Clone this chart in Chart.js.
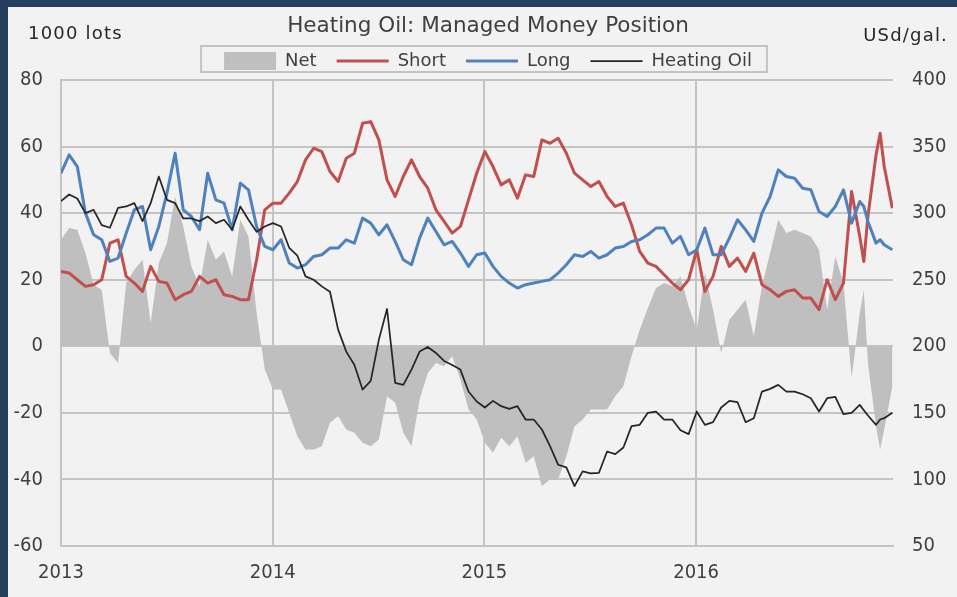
<!doctype html>
<html lang="en">
<head>
  <meta charset="utf-8">
  <title>Heating Oil: Managed Money Position</title>
  <script src="https://cdn.jsdelivr.net/npm/chart.js"></script>
  <style>
    html, body { margin: 0; padding: 0; }
    body { width: 957px; height: 597px; background: #243e5f; position: relative; overflow: hidden; }
    #wrap { position: absolute; left: 8px; top: 7px; width: 949px; height: 590px; background: #f2f2f2; }
  </style>
</head>
<body>
  <div id="wrap"><canvas id="chart"></canvas></div>

  <script>
    // week index (from 1 Jan 2013) of each sampled observation
    const weeks = [
      0, 2, 4, 6, 8, 10, 12, 14, 16, 18, 20, 22, 24,
      26, 28, 30, 32, 34, 36, 38, 40, 42, 44, 46, 48, 50,
      52, 54, 56, 58, 60, 62, 64, 66, 68, 70, 72, 74, 76,
      78, 80, 82, 84, 86, 88, 90, 92, 94, 96, 98, 100, 102,
      104, 106, 108, 110, 112, 114, 116, 118, 120, 122, 124, 126, 128,
      130, 132, 134, 136, 138, 140, 142, 144, 146, 148, 150, 152, 154,
      156, 158, 160, 162, 164, 166, 168, 170, 172, 174, 176, 178, 180,
      182, 184, 186, 188, 190, 192, 194, 196, 197, 198, 200, 201, 202, 204
    ];

    // managed money positions, 1000 lots
    const net = [
      32, 35.5, 35, 28, 18.5, 17, -2, -5, 19, 23, 26, 7, 25,
      31, 45, 36, 24, 18, 32, 26, 28.5, 21, 38, 33, 10, -7,
      -13, -13, -20, -27, -31, -31, -30, -23, -21, -25, -26, -29, -30,
      -28, -15, -17, -26, -30, -16, -8, -5, -6, -3, -10, -19, -22,
      -29, -32, -27.5, -30, -27, -35, -33, -42, -40, -40, -33, -24, -22,
      -19, -19, -19, -15, -12, -3, 5, 11.5, 17.5, 19, 18, 21, 12,
      5, 22, 11, -2, 8, 11, 14, 3, 18, 28, 38, 34, 35,
      34, 33, 29, 11, 27, 19, -9.5, 10, 17, -5, -24, -31, -25, -12
    ];
    const short = [
      22.5, 22, 20, 18, 18.5, 20, 31, 32, 21, 19, 16.5, 24, 19.5,
      19, 14, 15.5, 16.5, 21, 19, 20, 15.5, 15, 14, 14, 26, 41,
      43, 43, 46, 49.5, 56, 59.5, 58.5, 52.5, 49.5, 56.5, 58, 67, 67.5,
      62, 50, 45, 51, 56, 51, 47.5, 41, 37.5, 34, 36, 44, 52,
      58.5, 54, 48.5, 50, 44.5, 51.5, 51, 62, 61, 62.5, 58, 52, 50,
      48, 49.5, 45, 42, 43, 36.5, 28.5, 25, 24, 21.5, 19, 17, 20,
      29, 16.5, 21, 30, 24, 26.5, 22.5, 28, 18.5, 17, 15, 16.5, 17,
      14.5, 14.5, 11, 20, 14, 19, 46.5, 33, 25.5, 39, 57.5, 64, 54, 41.5
    ];
    const long = [
      52, 57.5, 54, 40, 33.5, 32, 25.5, 26.5, 34, 41, 42, 29, 36,
      46, 58, 41, 39, 35, 52, 44, 43, 35, 49, 47, 36, 30,
      29, 32, 25, 23.5, 24.5, 27, 27.5, 29.5, 29.5, 32, 31, 38.5, 37,
      33.5, 36.5, 31.5, 26, 24.5, 32.5, 38.5, 34.5, 30.5, 31.5, 28, 24, 27.5,
      28, 24, 21, 19, 17.5, 18.5, 19, 19.5, 20, 22, 24.5, 27.5, 27,
      28.5, 26.5, 27.5, 29.5, 30, 31.5, 32, 33.5, 35.5, 35.5, 31, 33, 27.5,
      29, 35.5, 27.5, 27.5, 32.5, 38, 35, 31.5, 40, 45, 53, 51, 50.5,
      47.5, 47, 40.5, 39, 42, 47, 37, 43.5, 42, 37.5, 31, 32, 30.5, 29
    ];
    // heating oil price, USd/gal.
    const heatingOil = [
      309, 314, 311, 300, 302.5, 291, 289, 304, 305, 307.5, 294, 307.5, 327.5,
      310, 307.5, 296, 296, 294, 297.5, 292.5, 295, 287.5, 305, 295, 286, 290,
      292.5, 290, 274, 268, 252.5, 250, 245, 241, 212.5, 196, 186, 167.5, 174,
      205, 228, 172.5, 171, 182.5, 196, 199.5, 195, 189, 186, 182.5, 166, 158.5,
      154, 159, 155, 153, 155, 145, 145, 137.5, 125, 111, 109, 95, 106,
      104.5, 105, 121, 119, 124, 140, 141, 150, 151, 145, 145, 137, 134,
      151, 141, 143, 154, 159, 158, 143, 146, 166, 168, 171, 166, 166,
      164, 161, 151, 161, 162, 149, 150, 156, 152, 148, 141, 145, 146, 150
    ];

    const yearTicks = [2013, 2014, 2015, 2016];

    const toPoints = vals => vals.map((v, i) => ({ x: 2013 + weeks[i] * 0.01925, y: v }));

    Chart.defaults.font.family = "'DejaVu Sans', sans-serif";
    const tickFont = { family: "'DejaVu Sans Condensed', 'DejaVu Sans', sans-serif", size: 20 };
    const gridColor = '#c4c4c4';
    const plain = v => String(v);

    // legend frame and the two unit captions
    const decor = {
      id: 'decor',
      afterDraw(chart) {
        const ctx = chart.ctx;
        const boxes = chart.legend.legendHitBoxes;
        const first = boxes[0];
        const last = boxes[boxes.length - 1];
        const cy = first.top + first.height / 2;
        ctx.save();
        ctx.strokeStyle = '#c4c4c4';
        ctx.lineWidth = 2;
        ctx.strokeRect(first.left - 23, cy - 15, last.left + last.width - first.left + 38, 26);
        ctx.fillStyle = '#262626';
        ctx.font = "18px 'DejaVu Sans', sans-serif";
        ctx.letterSpacing = '1.2px';
        ctx.textBaseline = 'middle';
        ctx.textAlign = 'left';
        ctx.fillText('1000 lots', 20, 27);
        ctx.textAlign = 'right';
        ctx.fillText('USd/gal.', 940, 29);
        ctx.restore();
      }
    };

    const ctx = document.getElementById('chart').getContext('2d');
    new Chart(ctx, {
      type: 'line',
      data: {
        datasets: [
          {
            label: 'Net',
            data: toPoints(net),
            yAxisID: 'y',
            fill: 'origin',
            backgroundColor: '#bfbfbf',
            borderColor: '#bfbfbf',
            borderWidth: 0,
            pointStyle: 'rect',
            order: 4
          },
          {
            label: 'Short',
            data: toPoints(short),
            yAxisID: 'y',
            borderColor: '#c0504d',
            backgroundColor: '#c0504d',
            borderWidth: 3,
            pointStyle: 'line',
            order: 3
          },
          {
            label: 'Long',
            data: toPoints(long),
            yAxisID: 'y',
            borderColor: '#4f81bd',
            backgroundColor: '#4f81bd',
            borderWidth: 3,
            pointStyle: 'line',
            order: 2
          },
          {
            label: 'Heating Oil',
            data: toPoints(heatingOil),
            yAxisID: 'y1',
            borderColor: '#262626',
            backgroundColor: '#262626',
            borderWidth: 1.75,
            pointStyle: 'line',
            order: 1
          }
        ]
      },
      options: {
        responsive: true,
        maintainAspectRatio: false,
        animation: false,
        layout: { padding: { left: 4, right: -7, top: 0, bottom: 0 } },
        elements: {
          point: { radius: 0, hoverRadius: 0 },
          line: { tension: 0, borderJoinStyle: 'round' }
        },
        plugins: {
          title: {
            display: true,
            text: 'Heating Oil: Managed Money Position',
            color: '#404040',
            font: { size: 21.5, weight: 'normal' },
            padding: { top: 6.5, bottom: -7.3 }
          },
          legend: {
            labels: {
              usePointStyle: true,
              pointStyleWidth: 52,
              padding: 20,
              color: '#404040',
              font: { size: 18 },
              sort: (a, b) => a.datasetIndex - b.datasetIndex
            }
          },
          tooltip: { enabled: false }
        },
        scales: {
          x: {
            type: 'linear',
            min: 2013,
            max: 2016.93,
            afterBuildTicks: s => { s.ticks = yearTicks.map(v => ({ value: v })); },
            afterFit: s => { s.height = 51; },
            ticks: { padding: 15, color: '#404040', font: tickFont, maxRotation: 0, callback: plain },
            grid: { color: gridColor, lineWidth: 2, drawTicks: false },
            border: { color: gridColor, width: 2 }
          },
          y: {
            position: 'left',
            min: -60,
            max: 80,
            afterFit: s => { s.width = 49; },
            ticks: { stepSize: 20, padding: 18, color: '#404040', font: tickFont, callback: plain },
            grid: { color: gridColor, lineWidth: 2, drawTicks: false },
            border: { color: gridColor, width: 2 }
          },
          y1: {
            position: 'right',
            min: 50,
            max: 400,
            afterFit: s => { s.width = 71; },
            ticks: { stepSize: 50, padding: 19, color: '#404040', font: tickFont, callback: plain },
            grid: { display: false, drawTicks: false },
            border: { display: false }
          }
        }
      },
      plugins: [decor]
    });
  </script>
</body>
</html>
